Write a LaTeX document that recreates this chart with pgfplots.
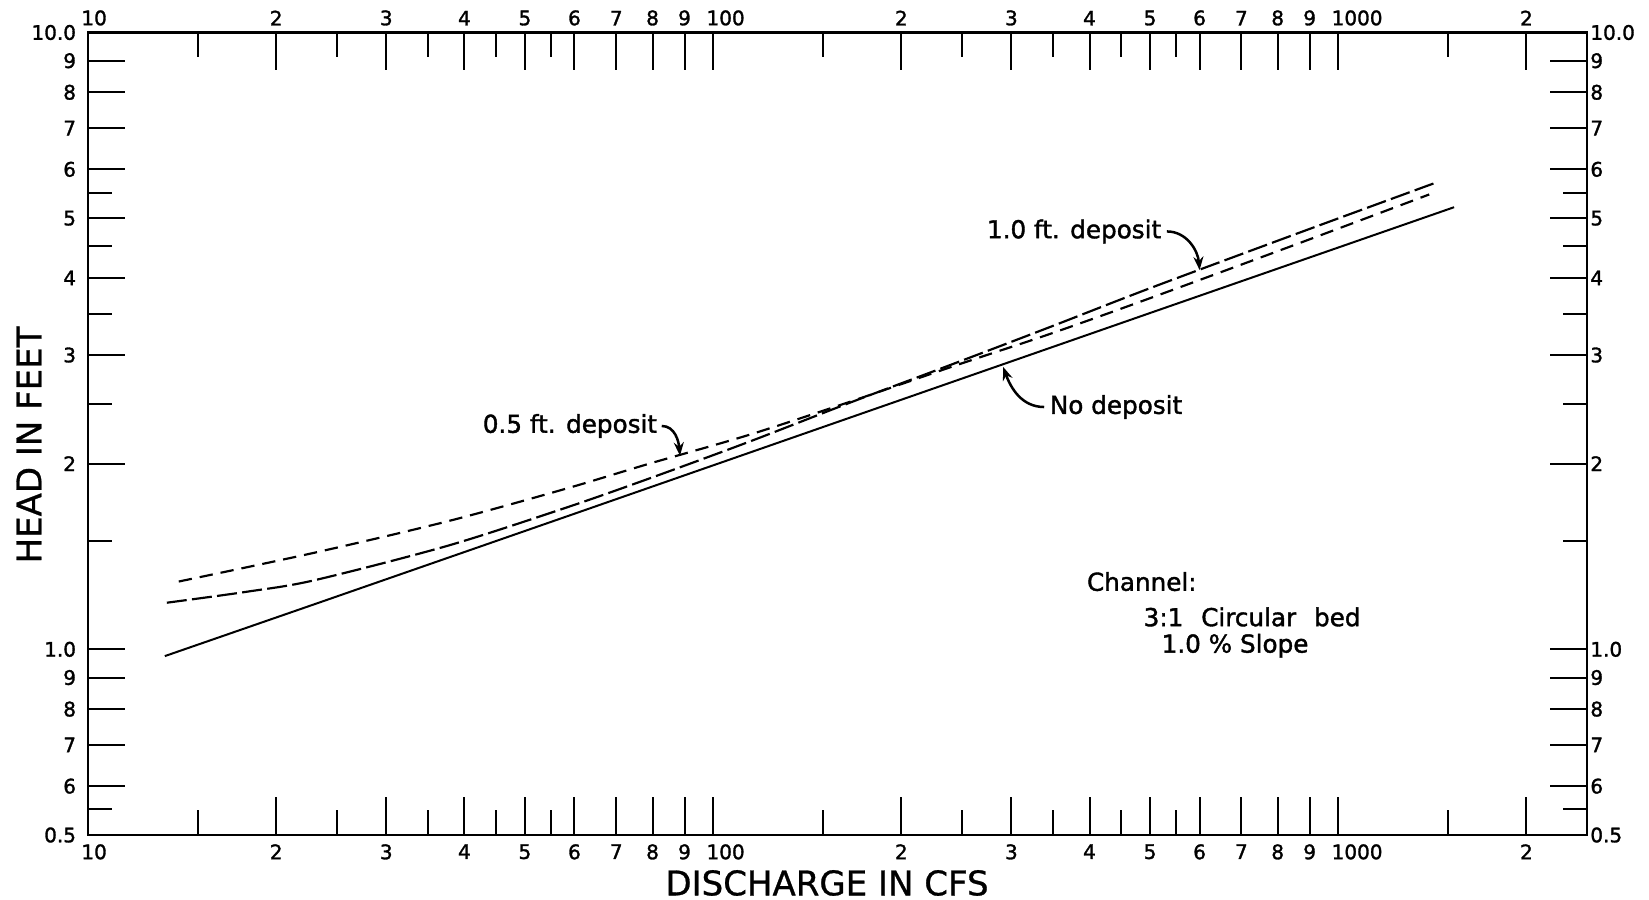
\documentclass[border=0pt]{standalone}
\usepackage{fontspec}
\setmainfont{DejaVu Sans}
\newfontfamily\lettering[FakeBold=1.5]{DejaVu Sans}
\newfontfamily\titlelettering[FakeBold=0.8]{DejaVu Sans}
\usepackage{pgfplots}
\usepackage{pgfplotstable}
\pgfplotsset{compat=1.18}
\usetikzlibrary{arrows.meta}

\newcommand\ticklab{\lettering\fontsize{6}{7}\selectfont}
\newcommand\annot{\lettering\fontsize{7.4}{9}\selectfont}
\newcommand\axlab{\titlelettering\fontsize{10.2}{12}\selectfont}
% decade labels start at the tick, with the "1" on the tick line
\newcommand\dec[1]{\rlap{\kern-0.33em #1}}

% Head (ft) against discharge (cfs)
\pgfplotstableread{
Q H
13.27 0.975
23.01 1.183
57.98 1.639
165.0 2.372
500.1 3.510
1532 5.209
}\nodeposit

\pgfplotstableread{
Q H
13.97 1.288
23.01 1.434
37.62 1.613
57.98 1.820
78.79 1.998
114.0 2.226
165.0 2.517
245.1 2.889
345.6 3.245
500.1 3.710
870.4 4.563
1398 5.463
}\halffoot

\pgfplotstableread{
Q H
13.37 1.190
17.97 1.240
23.01 1.294
37.62 1.472
57.98 1.695
78.79 1.890
114.0 2.169
165.0 2.508
245.1 2.916
345.6 3.330
500.1 3.851
870.4 4.744
1424 5.697
}\onefoot

\begin{document}
\begin{tikzpicture}
\begin{axis}[
    xmode=log, ymode=log, scale only axis,
    width=449.7pt, height=240.75pt,
    xmin=10, xmax=2500, ymin=0.5, ymax=10,
    xtick={10,20,30,40,50,60,70,80,90,100,200,300,400,500,600,700,800,900,1000,2000},
    minor xtick={15,25,35,45,55,150,250,350,450,550,1500},
    ytick={0.5,0.6,0.7,0.8,0.9,1,2,3,4,5,6,7,8,9,10},
    minor ytick={0.55,1.5,2.5,3.5,4.5,5.5},
    xticklabels={\dec{10},2,3,4,5,6,7,8,9,\dec{100},2,3,4,5,6,7,8,9,\dec{1000},2},
    yticklabels={0.5,6,7,8,9,1.0,2,3,4,5,6,7,8,9,10.0},
    major tick length=11.3pt, minor tick length=7.4pt,
    tick align=inside,
    axis line style={line width=0.85pt},
    ticklabel style={font=\ticklab},
    xticklabel pos=left, yticklabel pos=left, tick pos=both,
    tick style={line width=0.6pt, black},
    xticklabel style={anchor=north, inner sep=2.6pt},
    yticklabel style={anchor=east, inner sep=3.4pt},
    xlabel={DISCHARGE IN CFS},
    ylabel={HEAD IN FEET},
    xlabel style={font=\axlab, inner sep=0pt, at={(axis description cs:0.493,-0.0598)}, anchor=center},
    ylabel style={font=\axlab, inner sep=0pt, at={(axis description cs:-0.0394,0.486)}, anchor=center},
  ]
  \addplot[line width=0.6pt] table {\nodeposit};
  \addplot[line width=0.65pt, dash pattern=on 4pt off 2.4pt, smooth, tension=0.5] table {\halffoot};
  \addplot[line width=0.65pt, dash pattern=on 6pt off 1.6pt, smooth, tension=0.5] table {\onefoot};

  \node[font=\annot, inner sep=0pt] (n1) at (rel axis cs:0.6578,0.7521) {1.0 ft. deposit};
  \node[font=\annot, inner sep=0pt] (n2) at (rel axis cs:0.3215,0.5097) {0.5 ft. deposit};
  \node[font=\annot, inner sep=0pt] (n3) at (rel axis cs:0.6858,0.5333) {No deposit};
  \draw[line width=0.75pt, -{Stealth[length=4pt,width=3pt]}]
    ([xshift=1.5pt]n1.east) to[out=0,in=95] (axis cs:600,4.12);
  \draw[line width=0.75pt, -{Stealth[length=4pt,width=3pt]}]
    ([xshift=1.2pt]n2.east) to[out=0,in=95] (axis cs:88.5,2.06);
  \draw[line width=0.75pt, -{Stealth[length=4pt,width=3pt]}]
    ([xshift=-1.5pt]n3.west) to[out=180,in=-70] (axis cs:291,2.87);

  \node[font=\annot, inner sep=0pt, anchor=west] at (rel axis cs:0.6660,0.3158) {Channel:};
  \node[font=\annot, inner sep=0pt, anchor=west] at (rel axis cs:0.7038,0.2717) {3:1\hspace{3pt} Circular\hspace{3pt} bed};
  \node[font=\annot, inner sep=0pt, anchor=west] at (rel axis cs:0.7158,0.2358) {1.0 \% Slope};
\end{axis}
% same scales, labelled along the top and right edges
\begin{axis}[
    xmode=log, ymode=log, scale only axis,
    width=449.7pt, height=240.75pt,
    xmin=10, xmax=2500, ymin=0.5, ymax=10,
    xtick={10,20,30,40,50,60,70,80,90,100,200,300,400,500,600,700,800,900,1000,2000},
    ytick={0.5,0.6,0.7,0.8,0.9,1,2,3,4,5,6,7,8,9,10},
    xticklabels={\dec{10},2,3,4,5,6,7,8,9,\dec{100},2,3,4,5,6,7,8,9,\dec{1000},2},
    yticklabels={0.5,6,7,8,9,1.0,2,3,4,5,6,7,8,9,10.0},
    ticklabel style={font=\ticklab},
    axis line style={draw=none}, major tick length=0pt, minor tick length=0pt,
    xticklabel pos=right, yticklabel pos=right,
    xticklabel style={anchor=south, inner sep=1.9pt},
    yticklabel style={anchor=west, inner sep=0.8pt},
  ]
  \addplot[draw=none] table {\nodeposit};
\end{axis}
\path (-26.4pt,-19.5pt) rectangle (468.3pt,250.5pt);
\end{tikzpicture}
\end{document}
